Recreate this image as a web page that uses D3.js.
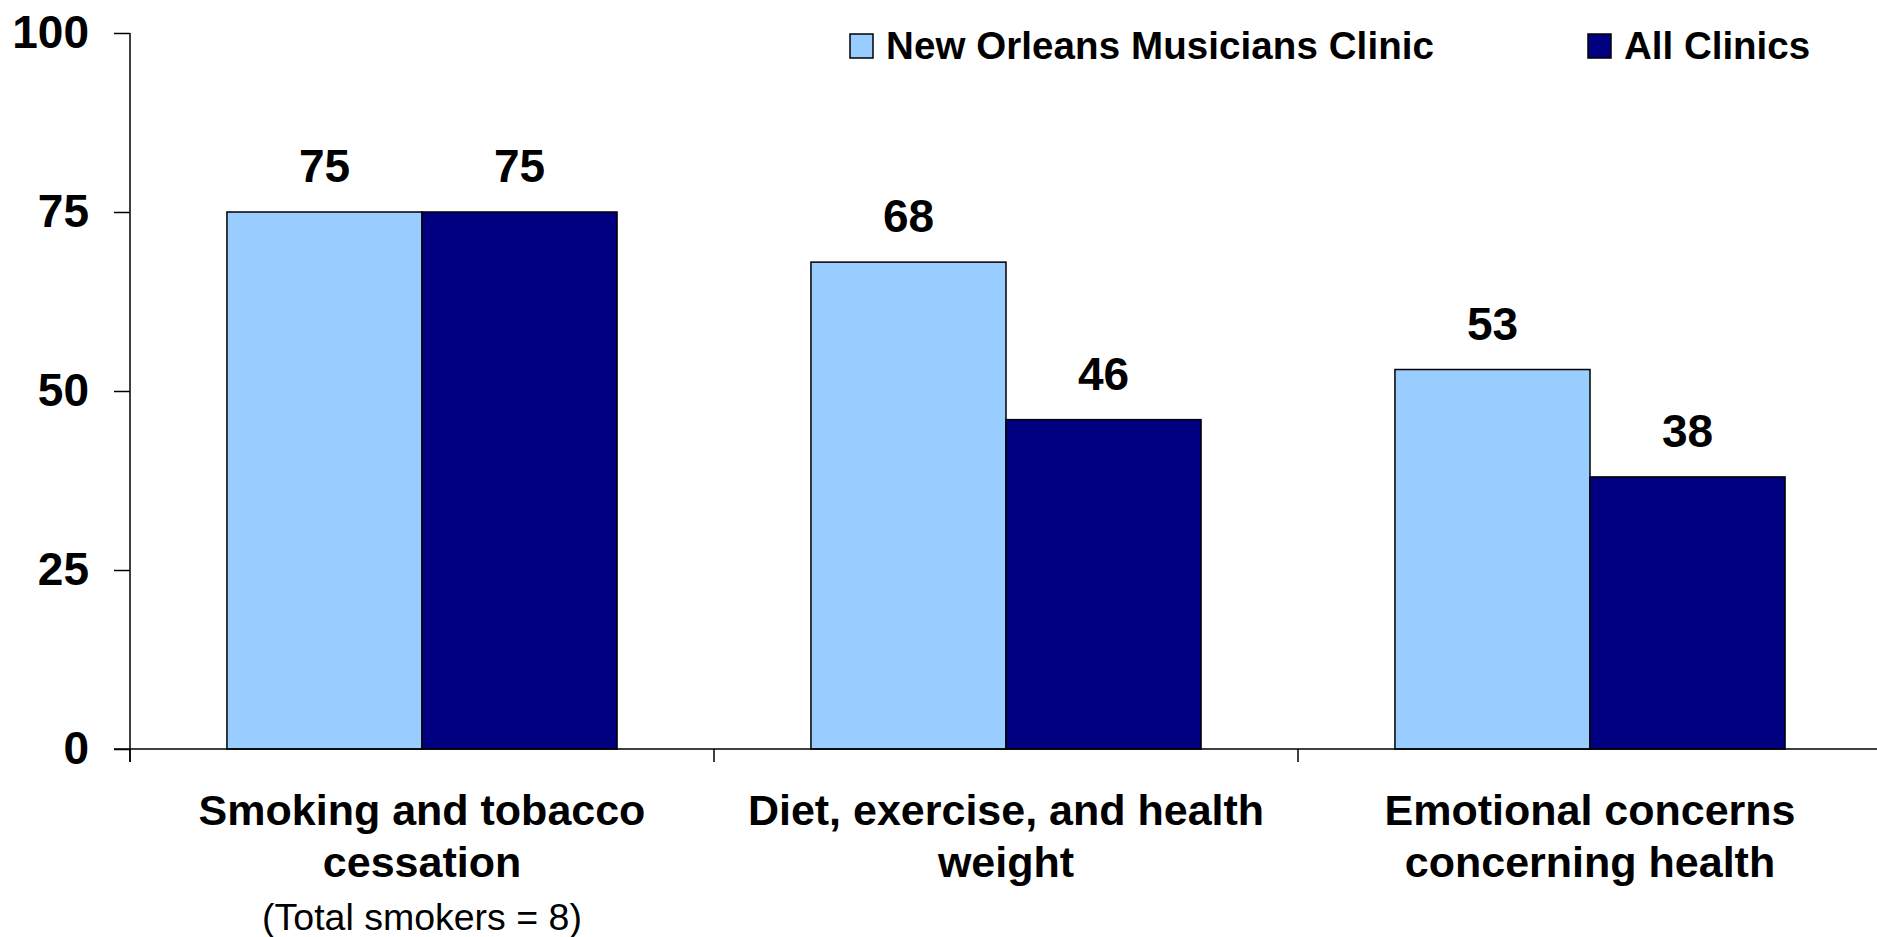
<!DOCTYPE html>
<html>
<head>
<meta charset="utf-8">
<script src="https://cdn.jsdelivr.net/npm/d3@7"></script>
<style>
  html, body { margin: 0; padding: 0; background: #fff; }
  svg { display: block; font-family: "Liberation Sans", Arial, Helvetica, sans-serif; }
</style>
</head>
<body>
<svg id="chart" width="1877" height="937"></svg>
<script>
const categories = [
  ["Smoking and tobacco", "cessation"],
  ["Diet, exercise, and health", "weight"],
  ["Emotional concerns", "concerning health"]
];
const categoryNotes = ["(Total smokers = 8)", "", ""];
const seriesNames = ["New Orleans Musicians Clinic", "All Clinics"];
const nomcValues = [75, 68, 53];
const allClinicsValues = [75, 46, 38];
const yTicks = [0, 25, 50, 75, 100];
const colors = ["#99CCFF", "#000080"];

(function () {
const series = [nomcValues, allClinicsValues];
const svg = d3.select("#chart");

const mLeft = 130, mRight = 1882, mTop = 33, mBottom = 749;
const catKeys = categories.map((c, i) => i);

const x0 = d3.scaleBand().domain(catKeys).range([mLeft, mRight])
  .paddingInner(0.332).paddingOuter(0.166);
const x1 = d3.scaleBand().domain([0, 1]).range([0, x0.bandwidth()]).padding(0);
const y = d3.scaleLinear().domain([0, 100]).range([mBottom, mTop]);

// Bars
const groups = svg.append("g").selectAll("g").data(catKeys).join("g")
  .attr("transform", d => `translate(${x0(d)},0)`);

groups.selectAll("rect")
  .data(ci => series.map((s, si) => ({ si, v: s[ci] })))
  .join("rect")
  .attr("x", d => x1(d.si))
  .attr("y", d => y(d.v))
  .attr("width", x1.bandwidth())
  .attr("height", d => y(0) - y(d.v))
  .attr("fill", d => colors[d.si])
  .attr("stroke", "#000")
  .attr("stroke-width", 1.5);

groups.selectAll("text.val")
  .data(ci => series.map((s, si) => ({ si, v: s[ci] })))
  .join("text")
  .attr("class", "val")
  .attr("x", d => x1(d.si) + x1.bandwidth() / 2)
  .attr("y", d => y(d.v) - 30)
  .attr("text-anchor", "middle")
  .attr("font-size", 46)
  .attr("font-weight", "bold")
  .text(d => d.v);

// Y axis
const yAxis = svg.append("g")
  .attr("transform", `translate(${mLeft},0)`)
  .call(d3.axisLeft(y).tickValues(yTicks).tickSize(16).tickPadding(25).tickSizeOuter(0));
yAxis.select(".domain").remove();
yAxis.append("line").attr("x1", 0).attr("x2", 0).attr("y1", mTop).attr("y2", mBottom + 13)
  .attr("stroke", "#000").attr("stroke-width", 1.5);
yAxis.selectAll(".tick line").attr("stroke", "#000").attr("stroke-width", 1.5);
yAxis.selectAll(".tick text")
  .attr("font-size", 46).attr("font-weight", "bold").attr("fill", "#000")
  .attr("font-family", "Liberation Sans, Arial, sans-serif");

// X axis
const xAxisG = svg.append("g");
xAxisG.append("line").attr("x1", mLeft - 16).attr("x2", 1877).attr("y1", mBottom).attr("y2", mBottom)
  .attr("stroke", "#000").attr("stroke-width", 1.5);
const boundaries = catKeys.map(k => x0(k) - x0.step() * x0.paddingOuter());
xAxisG.selectAll("line.xt").data(boundaries).join("line")
  .attr("class", "xt")
  .attr("x1", d => d).attr("x2", d => d)
  .attr("y1", mBottom).attr("y2", mBottom + 13)
  .attr("stroke", "#000").attr("stroke-width", 1.5);

// Category labels
const labels = svg.append("g").selectAll("text").data(catKeys).join("text")
  .attr("text-anchor", "middle")
  .attr("x", d => x0(d) + x0.bandwidth() / 2)
  .attr("y", 825);
labels.each(function (d) {
  const t = d3.select(this);
  categories[d].forEach((line, i) => {
    t.append("tspan").attr("x", x0(d) + x0.bandwidth() / 2)
      .attr("y", 825 + i * 52)
      .attr("font-size", 43).attr("font-weight", "bold")
      .text(line);
  });
  if (categoryNotes[d]) {
    t.append("tspan").attr("x", x0(d) + x0.bandwidth() / 2)
      .attr("y", 930)
      .attr("font-size", 37.5).attr("font-weight", "normal")
      .text(categoryNotes[d]);
  }
});

// Legend
const legendX = [850, 1588];
const legend = svg.append("g").selectAll("g").data(seriesNames).join("g")
  .attr("transform", (d, i) => `translate(${legendX[i]},34)`);
legend.append("rect").attr("width", 23).attr("height", 24)
  .attr("fill", (d, i) => colors[i]).attr("stroke", "#000").attr("stroke-width", 1.5);
legend.append("text").attr("x", 36).attr("y", 25)
  .attr("font-size", 38.5).attr("font-weight", "bold")
  .attr("textLength", (d, i) => i === 0 ? 548 : null)
  .text(d => d);
})();
</script>
</body>
</html>
